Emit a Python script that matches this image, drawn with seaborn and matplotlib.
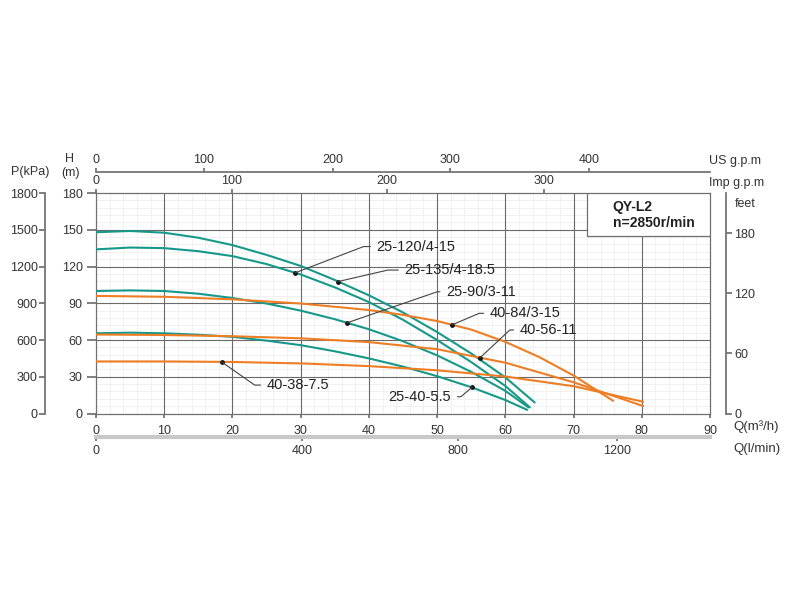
import numpy as np
import pandas as pd
import seaborn as sns
import matplotlib.pyplot as plt
from matplotlib.patches import Rectangle
from matplotlib.ticker import MultipleLocator

# pump curves: Q in m3/h, H in m
q_25_135 = [0, 5, 10, 15, 20, 25, 30, 35, 40, 45, 50, 55, 60, 64.3]
h_25_135 = [148, 149, 147.6, 143.5, 137.5, 129.5, 120.5, 109, 96.5, 82.5, 66.5, 49, 29.5, 9]
q_25_120 = [0, 5, 10, 15, 20, 25, 30, 35, 40, 45, 50, 55, 60, 63.6]
h_25_120 = [134, 135.5, 135, 132.5, 128.5, 122, 113.5, 103, 91, 76.5, 60, 42, 22.5, 5]
q_25_90 = [0, 5, 10, 15, 20, 25, 30, 35, 40, 45, 50, 55, 60, 63.4]
h_25_90 = [100, 100.5, 100, 97.8, 94.3, 89.8, 84, 77, 68.8, 59, 47.5, 34, 18.5, 5]
q_25_40 = [0, 5, 10, 15, 20, 25, 30, 35, 40, 45, 50, 55, 60, 63.2]
h_25_40 = [65.5, 66, 65.5, 64.3, 62.6, 59.5, 55.8, 50.8, 45, 38.3, 30.5, 21.5, 11, 3]
q_40_84 = [0, 10, 20, 30, 40, 45, 50, 55, 60, 65, 70, 75.8]
h_40_84 = [96, 95.3, 93.2, 89.8, 84.5, 80.5, 75.5, 68.5, 58.5, 46, 31, 10.4]
q_40_56 = [0, 10, 20, 30, 40, 50, 60, 70, 80.2]
h_40_56 = [64.5, 64.1, 63.1, 61.4, 58.3, 52.5, 41.5, 25.5, 6.1]
q_40_38 = [0, 10, 20, 30, 40, 50, 60, 70, 80.2]
h_40_38 = [42.5, 42.5, 42.1, 40.9, 38.7, 35.3, 30.2, 22.3, 9.6]

models = ["25-135/4-18.5", "25-120/4-15", "25-90/3-11", "25-40-5.5",
          "40-84/3-15", "40-56-11", "40-38-7.5"]
q_lists = [q_25_135, q_25_120, q_25_90, q_25_40, q_40_84, q_40_56, q_40_38]
h_lists = [h_25_135, h_25_120, h_25_90, h_25_40, h_40_84, h_40_56, h_40_38]

TEAL = "#16998a"
ORANGE = "#ee7d23"
colors = {m: (TEAL if m.startswith("25") else ORANGE) for m in models}

# curve labels: text anchor (Q, H), marker Q on curve, leader angle
lab_text_q = [45.2, 41.1, 51.3, 42.9, 57.7, 62.1, 25.0]
lab_text_h = [117.1, 136.3, 99.4, 13.7, 81.8, 68.2, 23.2]
lab_dot_q = [35.5, 29.2, 36.8, 55.1, 52.2, 56.3, 18.4]
lab_angle = [13, 21, 19, 40, 23, 43, -35]

# axis ticks
q_ticks = list(range(0, 91, 10))
h_ticks = list(range(0, 181, 30))
p_ticks = list(range(0, 1801, 300))
feet_ticks = [0, 60, 120, 180]
us_pos = [0, 15.8, 34.7, 51.9, 72.3]
us_labels = ["0", "100", "200", "300", "400"]
imp_pos = [0, 19.9, 42.6, 65.6]
imp_labels = ["0", "100", "200", "300"]
lmin_pos = [0, 30.2, 53.1, 76.4]
lmin_labels = ["0", "400", "800", "1200"]

sns.set_theme(style="white")
plt.rcParams["font.family"] = ["Liberation Sans", "DejaVu Sans"]

df = pd.concat([pd.DataFrame({"Q": q, "H": h, "model": m})
                for m, q, h in zip(models, q_lists, h_lists)], ignore_index=True)

fig = plt.figure(figsize=(8, 6), dpi=100, facecolor="white")
ax = fig.add_axes([0.12, 0.3108, 0.7675, 0.3675])
txt = "#333333"
axc = "#707070"

sns.lineplot(data=df, x="Q", y="H", hue="model", palette=colors, estimator=None,
             sort=False, legend=False, linewidth=1.5, ax=ax, zorder=3)

ax.set_xlim(0, 90)
ax.set_ylim(0, 180)
ax.set_xticks(q_ticks)
ax.set_yticks(h_ticks)
ax.xaxis.set_minor_locator(MultipleLocator(2))
ax.yaxis.set_minor_locator(MultipleLocator(6))
ax.grid(True, which="minor", color="#efefef", lw=0.6)
ax.set_axisbelow(True)
for q in q_ticks[1:-1]:
    ax.axvline(q, color="#6a6a6a", lw=0.8, zorder=1)
for h in h_ticks[1:-1]:
    ax.axhline(h, color="#6a6a6a", lw=0.8, zorder=1)
ax.set_xlabel("")
ax.set_ylabel("")
for s in ax.spines.values():
    s.set_color(axc)
    s.set_linewidth(0.9)
ax.tick_params(axis="x", which="major", length=3, pad=5, labelsize=9, colors=axc, labelcolor=txt)
ax.tick_params(axis="y", which="major", length=6.5, pad=3, labelsize=9, colors=axc, labelcolor=txt)
ax.tick_params(which="minor", length=0)

# curve labels with leaders
for m, tq, th, dq, ang in zip(models, lab_text_q, lab_text_h, lab_dot_q, lab_angle):
    i = models.index(m)
    dh = np.interp(dq, q_lists[i], h_lists[i])
    ax.scatter([dq], [dh], s=6, color="#111111", zorder=5)
    ax.annotate(m, xy=(dq, dh), xytext=(tq, th), ha="left", va="center",
                fontsize=10.5, color="#222222", zorder=6,
                arrowprops=dict(arrowstyle="-", color="#444444", lw=0.8,
                                shrinkA=2, shrinkB=0,
                                connectionstyle=f"angle,angleA=0,angleB={ang},rad=0"))

# model box
ax.add_patch(Rectangle((72, 145), 18, 35, facecolor="white", edgecolor=axc,
                       lw=0.9, zorder=4))
ax.text(75.75, 161.8, "QY-L2\nn=2850r/min", ha="left", va="center", fontsize=10,
        fontweight="bold", color="#222222", linespacing=1.15, zorder=5)

# pressure axis
ax_p = ax.twinx()
ax_p.set_ylim(0, 1800)
ax_p.set_yticks(p_ticks)
ax_p.yaxis.tick_left()
for k in ["right", "top", "bottom"]:
    ax_p.spines[k].set_visible(False)
ax_p.spines["left"].set_visible(True)
ax_p.spines["left"].set_position(("outward", 36.7))
ax_p.spines["left"].set_color(axc)
ax_p.tick_params(axis="y", length=4.3, pad=1, labelsize=9, colors=axc, labelcolor=txt)
ax_p.grid(False)

# feet axis
ax_f = ax.twinx()
ax_f.set_ylim(0, 220)
ax_f.set_yticks(feet_ticks)
for k in ["left", "top", "bottom"]:
    ax_f.spines[k].set_visible(False)
ax_f.spines["right"].set_position(("outward", 11.3))
ax_f.spines["right"].set_color(axc)
ax_f.tick_params(axis="y", length=4.3, pad=2, labelsize=9, colors=axc, labelcolor=txt)
ax_f.grid(False)

# Imp g.p.m on top frame
ax_i = ax.twiny()
ax_i.set_xlim(0, 90)
ax_i.set_xticks(imp_pos, imp_labels)
for s in ax_i.spines.values():
    s.set_visible(False)
ax_i.tick_params(axis="x", length=3, pad=1, labelsize=9, colors=axc, labelcolor=txt)
ax_i.grid(False)

# US g.p.m above
ax_u = ax.twiny()
ax_u.set_xlim(0, 90)
ax_u.set_xticks(us_pos, us_labels)
for k in ["left", "right", "bottom"]:
    ax_u.spines[k].set_visible(False)
ax_u.spines["top"].set_position(("outward", 15.3))
ax_u.spines["top"].set_color(axc)
ax_u.tick_params(axis="x", length=3, pad=1, labelsize=9, colors=axc, labelcolor=txt)
ax_u.grid(False)

# l/min below
ax_l = ax.twiny()
ax_l.set_xlim(0, 90)
ax_l.xaxis.set_ticks_position("bottom")
ax_l.xaxis.set_label_position("bottom")
ax_l.set_xticks(lmin_pos, lmin_labels)
for k in ["left", "right", "top"]:
    ax_l.spines[k].set_visible(False)
ax_l.spines["bottom"].set_visible(True)
ax_l.spines["bottom"].set_position(("outward", 16.9))
ax_l.spines["bottom"].set_color("#c8c8c8")
ax_l.spines["bottom"].set_linewidth(3)
ax_l.tick_params(axis="x", length=3, pad=3, labelsize=9, colors=axc, labelcolor=txt)
ax_l.grid(False)

# axis titles
fig.text(30 / 800, 1 - 172 / 600, "P(kPa)", ha="center", va="center", fontsize=9, color=txt)
fig.text(70 / 800, 1 - 159 / 600, "H", ha="center", va="center", fontsize=9, color=txt)
fig.text(70 / 800, 1 - 173 / 600, "(m)", ha="center", va="center", fontsize=9, color=txt)
fig.text(709 / 800, 1 - 161 / 600, "US g.p.m", ha="left", va="center", fontsize=9, color=txt)
fig.text(709 / 800, 1 - 183 / 600, "Imp g.p.m", ha="left", va="center", fontsize=9, color=txt)
fig.text(735 / 800, 1 - 204 / 600, "feet", ha="left", va="center", fontsize=9, color=txt)
fig.text(733 / 800, 1 - 427 / 600, "Q(m³/h)", ha="left", va="center", fontsize=9.5, color=txt)
fig.text(733 / 800, 1 - 449 / 600, "Q(l/min)", ha="left", va="center", fontsize=9.5, color=txt)

fig.savefig("out.png", dpi=100, facecolor="white")
